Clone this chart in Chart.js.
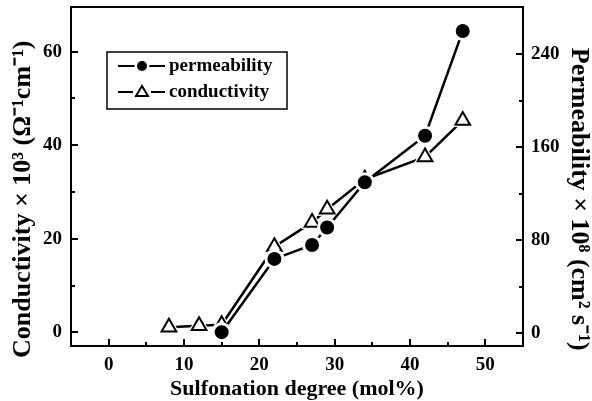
<!DOCTYPE html>
<html>
<head>
<meta charset="utf-8">
<script src="https://cdn.jsdelivr.net/npm/chart.js@4/dist/chart.umd.min.js"></script>
<style>
  html, body { margin: 0; padding: 0; background: #fff; }
  #wrap { width: 592px; height: 401px; }
</style>
</head>
<body>
<div id="wrap"><canvas id="c" width="592" height="401"></canvas></div>
<script>
// values
const permX = [15, 22, 27, 29, 34, 42, 47];
const permY = [1, 64, 76, 91, 130, 170, 260];
const condX = [8, 12, 15, 22, 27, 29, 34, 42, 47];
const condY = [1.1, 1.4, 1.6, 18.3, 23.5, 26.3, 32.7, 37.5, 45.3];

const xTicks = [0, 10, 20, 30, 40, 50];
const xMinor = [5, 15, 25, 35, 45];
const condTicks = [0, 20, 40, 60];
const condMinor = [10, 30, 50];
const permTicks = [0, 80, 160, 240];
const permMinor = [40, 120, 200];

const FONT = "'Liberation Serif', 'Times New Roman', serif";
const pts = (xs, ys) => xs.map((x, i) => ({x: x, y: ys[i]}));
const noPad = s => { s.paddingTop = 0; s.paddingBottom = 0; s.paddingLeft = 0; s.paddingRight = 0; };

// inward ticks, top frame line and the boxed legend
const frame = {
  id: 'frame',
  afterDatasetsDraw(chart) {
    const {ctx, chartArea: a, scales} = chart;
    ctx.save();
    ctx.strokeStyle = '#000';
    ctx.lineWidth = 2;
    ctx.beginPath(); ctx.moveTo(a.left - 1, a.top); ctx.lineTo(a.right + 1, a.top); ctx.stroke();
    const tk = (vals, len, sc, side) => vals.forEach(v => {
      const p = Math.round(sc.getPixelForValue(v));
      ctx.beginPath();
      if (side === 'b') { ctx.moveTo(p, a.bottom); ctx.lineTo(p, a.bottom - len); }
      if (side === 'l') { ctx.moveTo(a.left, p); ctx.lineTo(a.left + len, p); }
      if (side === 'r') { ctx.moveTo(a.right, p); ctx.lineTo(a.right - len, p); }
      ctx.stroke();
    });
    tk(xTicks, 7, scales.x, 'b'); tk(xMinor, 4, scales.x, 'b');
    tk(condTicks, 7, scales.y, 'l'); tk(condMinor, 4, scales.y, 'l');
    tk(permTicks, 7, scales.y2, 'r'); tk(permMinor, 4, scales.y2, 'r');

    // legend
    const bx = a.left + 36, by = a.top + 45;
    ctx.lineWidth = 1.5;
    ctx.strokeRect(bx, by, 180, 57);
    ctx.lineWidth = 2;
    const r1 = by + 14, r2 = by + 40;
    ctx.beginPath(); ctx.moveTo(bx + 11, r1); ctx.lineTo(bx + 58, r1); ctx.stroke();
    ctx.beginPath(); ctx.moveTo(bx + 11, r2); ctx.lineTo(bx + 58, r2); ctx.stroke();
    ctx.fillStyle = '#fff';
    ctx.beginPath(); ctx.arc(bx + 35, r1, 7.5, 0, Math.PI * 2); ctx.fill();
    ctx.fillStyle = '#000';
    ctx.beginPath(); ctx.arc(bx + 35, r1, 5, 0, Math.PI * 2); ctx.fill();
    ctx.fillStyle = '#fff';
    ctx.fillRect(bx + 26, r2 - 8, 18, 14);
    ctx.beginPath();
    ctx.moveTo(bx + 35, r2 - 6); ctx.lineTo(bx + 41, r2 + 4); ctx.lineTo(bx + 29, r2 + 4); ctx.closePath();
    ctx.stroke();
    ctx.fillStyle = '#000';
    ctx.font = 'bold 19px ' + FONT;
    ctx.textBaseline = 'middle';
    ctx.fillText('permeability', bx + 62, r1);
    ctx.fillText('conductivity', bx + 62, r2);
    ctx.restore();
  }
};

new Chart(document.getElementById('c'), {
  type: 'scatter',
  data: {
    datasets: [
      { label: 'permeability', data: pts(permX, permY), yAxisID: 'y2', showLine: true, order: 0,
        borderColor: '#000', borderWidth: 2.5, pointRadius: 8.5, pointBackgroundColor: '#000',
        pointBorderColor: '#fff', pointBorderWidth: 3 },
      { label: 'conductivity', data: pts(condX, condY), yAxisID: 'y', showLine: false, order: 1,
        pointStyle: 'triangle', pointRadius: 8.5, pointBackgroundColor: '#fff',
        pointBorderColor: '#000', pointBorderWidth: 2 },
      { label: 'halo', data: pts(condX, condY), yAxisID: 'y', showLine: false, order: 2,
        pointStyle: 'triangle', pointRadius: 12, pointBackgroundColor: '#fff',
        pointBorderColor: '#fff', pointBorderWidth: 1 },
      { label: 'line', data: pts(condX, condY), yAxisID: 'y', showLine: true, order: 3,
        borderColor: '#000', borderWidth: 2.5, pointRadius: 0 }
    ]
  },
  options: {
    responsive: false,
    animation: false,
    layout: { autoPadding: false, padding: { top: 7, left: 0, right: 0, bottom: 0 } },
    plugins: { legend: { display: false }, tooltip: { enabled: false } },
    scales: {
      x: {
        type: 'linear', min: -5, max: 55,
        afterBuildTicks: s => { s.ticks = xTicks.map(v => ({value: v})); },
        afterFit: s => { s.height = 55; noPad(s); },
        grid: { display: false, drawTicks: false },
        border: { display: true, color: '#000', width: 2 },
        ticks: { color: '#000', padding: 8, font: { family: FONT, size: 19, weight: 'bold' } },
        title: { display: true, text: 'Sulfonation degree (mol%)', color: '#000',
                 padding: { top: 0, bottom: 1 }, font: { family: FONT, size: 22, weight: 'bold', lineHeight: 1 } }
      },
      y: {
        type: 'linear', position: 'left', min: -2.93, max: 69.55,
        afterBuildTicks: s => { s.ticks = condTicks.map(v => ({value: v})); },
        afterFit: s => { s.width = 71; noPad(s); },
        grid: { display: false, drawTicks: false },
        border: { display: true, color: '#000', width: 2 },
        ticks: { color: '#000', padding: 9, font: { family: FONT, size: 19, weight: 'bold' } },
        title: { display: true, text: 'Conductivity × 10³ (Ω⁻¹cm⁻¹)\u2002\u2002\u2002 ', color: '#000',
                 padding: { top: 10, bottom: 0 }, font: { family: FONT, size: 26, weight: 'bold', lineHeight: 1 } }
      },
      y2: {
        type: 'linear', position: 'right', min: -10.9, max: 280.7,
        afterBuildTicks: s => { s.ticks = permTicks.map(v => ({value: v})); },
        afterFit: s => { s.width = 69; noPad(s); },
        grid: { display: false, drawTicks: false },
        border: { display: true, color: '#000', width: 2 },
        ticks: { color: '#000', padding: 8, font: { family: FONT, size: 19, weight: 'bold' } },
        title: { display: true, text: '\u2002\u2002\u2002 Permeability × 10⁸ (cm² s⁻¹)', color: '#000',
                 padding: { top: 0, bottom: 0 }, font: { family: FONT, size: 26, weight: 'bold', lineHeight: 1 } }
      }
    }
  },
  plugins: [frame]
});
</script>
</body>
</html>
